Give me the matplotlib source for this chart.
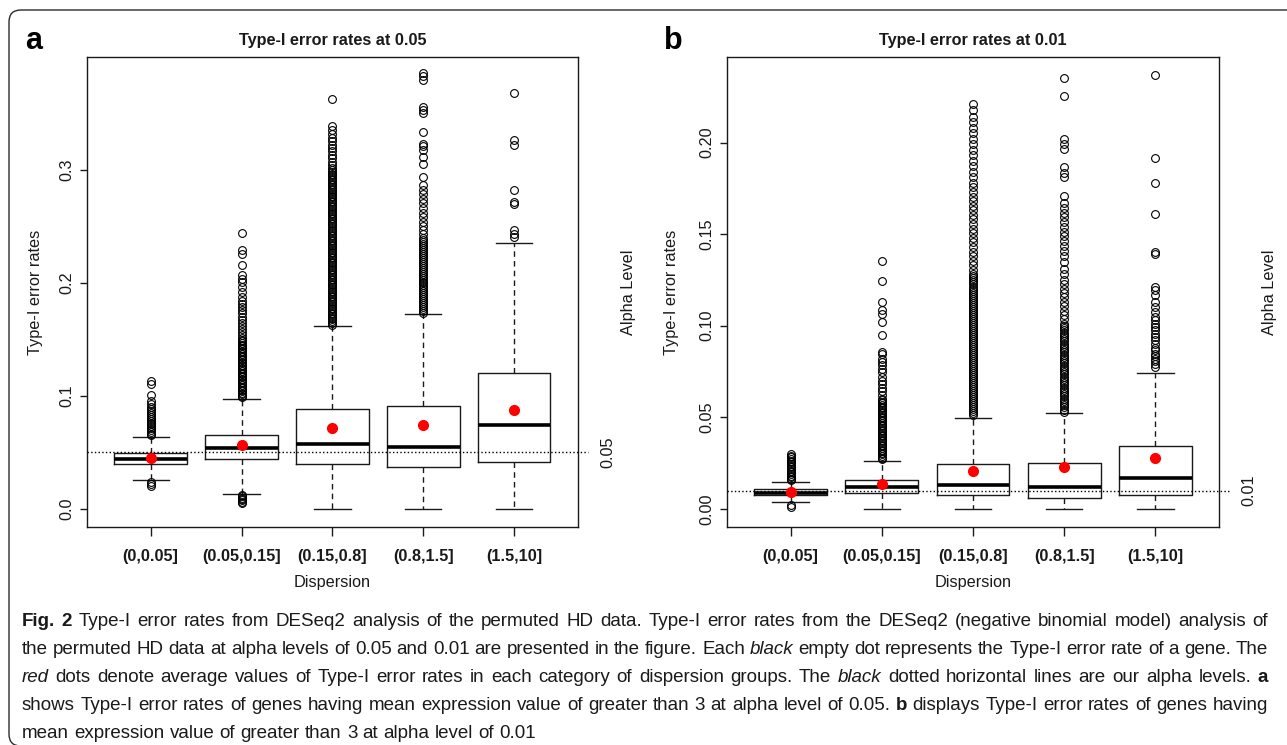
"""
Type-I error rates of DESeq2 on permuted HD data, split by dispersion group.
Two boxplot panels (alpha 0.05 and 0.01) plus the figure caption underneath.
"""

import matplotlib
matplotlib.use("Agg")
import matplotlib.pyplot as plt
from matplotlib.patches import FancyBboxPatch
from matplotlib.transforms import IdentityTransform

W, H = 1287, 745
DPI = 100

CATEGORIES = ["(0,0.05]", "(0.05,0.15]", "(0.15,0.8]", "(0.8,1.5]", "(1.5,10]"]

# --- Panel a: alpha 0.05 --------------------------------------------------
A_ALPHA = 0.05
A_ALPHA_LABEL = "0.05"
A_Q1 = [0.0395, 0.0442, 0.0395, 0.0368, 0.0416]
A_MED = [0.0439, 0.0540, 0.0572, 0.0545, 0.0746]
A_Q3 = [0.0492, 0.0655, 0.0885, 0.0908, 0.1204]
A_WHISLO = [0.0253, 0.0129, 0.0, 0.0, 0.0]
A_WHISHI = [0.0640, 0.0973, 0.1616, 0.1720, 0.2350]
A_MEAN = [0.0454, 0.0569, 0.0713, 0.0746, 0.0876]
A_FLIERS = [
    [0.0204, 0.0220, 0.0236, 0.0650, 0.0665, 0.068, 0.0698, 0.0712, 0.073, 0.0747,
     0.0763, 0.078, 0.0798, 0.0815, 0.083, 0.0848, 0.0865, 0.088, 0.0902, 0.0929,
     0.0951, 0.1009, 0.1103, 0.1132],
    [0.0052, 0.0063, 0.0075, 0.0088, 0.0100, 0.0112, 0.0124,
     0.0985, 0.1012, 0.104, 0.1068, 0.1095, 0.1123, 0.115, 0.1178, 0.1205, 0.1233,
     0.126, 0.1288, 0.1315, 0.1343, 0.137, 0.1398, 0.1425, 0.1453, 0.148, 0.1508,
     0.1535, 0.1563, 0.159, 0.1618, 0.1645, 0.1673, 0.17, 0.1728, 0.1755, 0.1783,
     0.181, 0.1838, 0.1873, 0.1917, 0.1961, 0.2005, 0.2036, 0.2065, 0.2153, 0.2257,
     0.2286, 0.2435,
     0.0998, 0.1026, 0.1054, 0.1081, 0.1109, 0.1136, 0.1164, 0.1191, 0.1219, 0.1246,
     0.1274, 0.1301, 0.1329, 0.1356, 0.1384, 0.1411, 0.1439, 0.1466, 0.1494],
    [0.163, 0.166, 0.169, 0.172, 0.175, 0.178, 0.181, 0.184, 0.187, 0.190, 0.193,
     0.196, 0.199, 0.202, 0.205, 0.208, 0.211, 0.214, 0.217, 0.220, 0.223, 0.226,
     0.229, 0.232, 0.235, 0.238, 0.241, 0.244, 0.247, 0.250, 0.253, 0.256, 0.259,
     0.262, 0.265, 0.268, 0.271, 0.274, 0.277, 0.280, 0.283, 0.286, 0.289, 0.292,
     0.295, 0.298, 0.301, 0.304, 0.307, 0.310, 0.313, 0.316, 0.319, 0.322, 0.325,
     0.328, 0.331, 0.3348, 0.3386, 0.3628,
     0.1645, 0.1675, 0.1705, 0.1735, 0.1765, 0.1795, 0.1825, 0.1855, 0.1885, 0.1915,
     0.1945, 0.1975, 0.2005, 0.2035, 0.2065, 0.2095, 0.2125, 0.2155, 0.2185, 0.2215,
     0.2245, 0.2275, 0.2305, 0.2335, 0.2365, 0.2395, 0.2425, 0.2455, 0.2485, 0.2515,
     0.2545, 0.2575, 0.2605, 0.2635, 0.2665, 0.2695, 0.2725, 0.2755, 0.2785, 0.2815,
     0.2845, 0.2875, 0.2905, 0.2935, 0.2965, 0.2995],
    [0.173, 0.1765, 0.180, 0.1835, 0.187, 0.1905, 0.194, 0.1975, 0.201, 0.2045,
     0.208, 0.2115, 0.215, 0.2185, 0.222, 0.2255, 0.229, 0.2325, 0.236, 0.2395,
     0.243, 0.2465, 0.250, 0.254, 0.258, 0.262, 0.266, 0.270, 0.274, 0.278, 0.282,
     0.286, 0.293, 0.305, 0.311, 0.317, 0.321, 0.323, 0.333, 0.3496, 0.3525, 0.355,
     0.379, 0.3826, 0.3855,
     0.1748, 0.1783, 0.1818, 0.1853, 0.1888, 0.1923, 0.1958, 0.1993, 0.2028, 0.2063,
     0.2098, 0.2133, 0.2168, 0.2203, 0.2238, 0.2273, 0.2308, 0.2343, 0.2378],
    [0.2404, 0.2434, 0.2463, 0.2698, 0.2713, 0.2823, 0.3215, 0.3260, 0.3678],
]

# --- Panel b: alpha 0.01 --------------------------------------------------
B_ALPHA = 0.01
B_ALPHA_LABEL = "0.01"
B_Q1 = [0.0075, 0.0087, 0.0075, 0.0062, 0.0073]
B_MED = [0.0084, 0.0120, 0.0133, 0.0117, 0.0166]
B_Q3 = [0.0106, 0.0158, 0.0244, 0.0249, 0.0344]
B_WHISLO = [0.0035, 0.0, 0.0, 0.0, 0.0]
B_WHISHI = [0.0147, 0.0260, 0.0498, 0.0525, 0.0744]
B_MEAN = [0.0093, 0.0135, 0.0209, 0.0227, 0.0275]
B_FLIERS = [
    [0.0012, 0.0022, 0.0155, 0.0164, 0.0173, 0.0182, 0.0191, 0.0200, 0.0209, 0.0218,
     0.0227, 0.0236, 0.0245, 0.0254, 0.0263, 0.0272, 0.0281, 0.0290, 0.0302],
    [0.0270, 0.0288, 0.0306, 0.0324, 0.0342, 0.0360, 0.0378, 0.0396, 0.0414, 0.0432,
     0.0450, 0.0468, 0.0486, 0.0504, 0.0522, 0.0540, 0.0558, 0.0576, 0.0594, 0.0602,
     0.0620, 0.0643, 0.0660, 0.0680, 0.0700, 0.0720, 0.0745, 0.0765, 0.0787, 0.0800,
     0.0820, 0.0845, 0.0856, 0.0951, 0.1020, 0.1065, 0.1087, 0.1129, 0.1243, 0.1351,
     0.0279, 0.0297, 0.0315, 0.0333, 0.0351, 0.0369, 0.0387, 0.0405, 0.0423, 0.0441,
     0.0459, 0.0477, 0.0495, 0.0513, 0.0531, 0.0549, 0.0567, 0.0585],
    [0.051, 0.0532, 0.0554, 0.0576, 0.0598, 0.062, 0.0642, 0.0664, 0.0686, 0.0708,
     0.073, 0.0752, 0.0774, 0.0796, 0.0818, 0.084, 0.0862, 0.0884, 0.0906, 0.0928,
     0.095, 0.0972, 0.0994, 0.1016, 0.1038, 0.106, 0.1082, 0.1104, 0.1126, 0.1148,
     0.117, 0.1192, 0.1214, 0.1236, 0.1258, 0.128, 0.1305, 0.133, 0.1355, 0.138,
     0.1405, 0.143, 0.1455, 0.148, 0.1505, 0.153, 0.1555, 0.158, 0.1605, 0.163,
     0.1655, 0.168, 0.1705, 0.173, 0.1755, 0.178, 0.181, 0.184, 0.187, 0.190,
     0.193, 0.196, 0.199, 0.202, 0.205, 0.208, 0.211, 0.214, 0.2175, 0.221,
     0.0521, 0.0543, 0.0565, 0.0587, 0.0609, 0.0631, 0.0653, 0.0675, 0.0697, 0.0719,
     0.0741, 0.0763, 0.0785, 0.0807, 0.0829, 0.0851, 0.0873, 0.0895, 0.0917, 0.0939,
     0.0961, 0.0983, 0.1005, 0.1027, 0.1049, 0.1071, 0.1093, 0.1115, 0.1137, 0.1159,
     0.1181, 0.1203, 0.1225, 0.1247, 0.1269],
    [0.053, 0.0554, 0.0578, 0.0602, 0.0626, 0.065, 0.0674, 0.0698, 0.0722, 0.0746,
     0.077, 0.0794, 0.0818, 0.0842, 0.0866, 0.089, 0.0914, 0.0938, 0.0962, 0.0986,
     0.101, 0.1034, 0.1058, 0.1082, 0.1106, 0.113, 0.1154, 0.1178, 0.1202, 0.1226,
     0.125, 0.1283, 0.131, 0.1347, 0.1383, 0.141, 0.1436, 0.1462, 0.1488, 0.1514,
     0.154, 0.1566, 0.1592, 0.1618, 0.1644, 0.167, 0.171, 0.181, 0.1835, 0.1865,
     0.1965, 0.1992, 0.2020, 0.2256, 0.2352,
     0.0542, 0.0566, 0.0590, 0.0614, 0.0638, 0.0662, 0.0686, 0.0710, 0.0734, 0.0758,
     0.0782, 0.0806, 0.0830, 0.0854, 0.0878, 0.0902, 0.0926, 0.0950, 0.0974, 0.0998],
    [0.0774, 0.0790, 0.0805, 0.0820, 0.0835, 0.0846, 0.0865, 0.0880, 0.0900, 0.0920,
     0.0940, 0.0956, 0.0975, 0.0992, 0.1010, 0.1029, 0.1050, 0.1074, 0.1100, 0.1129,
     0.1165, 0.1193, 0.1210, 0.1393, 0.1400, 0.1609, 0.1780, 0.1914, 0.2370],
]

A_YTICKS = [0.0, 0.1, 0.2, 0.3]
A_YTICKLABELS = ["0.0", "0.1", "0.2", "0.3"]
B_YTICKS = [0.00, 0.05, 0.10, 0.15, 0.20]
B_YTICKLABELS = ["0.00", "0.05", "0.10", "0.15", "0.20"]

CAPTION_LINES = [
    "**Fig. 2** Type-I error rates from DESeq2 analysis of the permuted HD data. Type-I error rates from the DESeq2 (negative binomial model) analysis of",
    "the permuted HD data at alpha levels of 0.05 and 0.01 are presented in the figure. Each *black* empty dot represents the Type-I error rate of a gene. The",
    "*red* dots denote average values of Type-I error rates in each category of dispersion groups. The *black* dotted horizontal lines are our alpha levels. **a**",
    "shows Type-I error rates of genes having mean expression value of greater than 3 at alpha level of 0.05. **b** displays Type-I error rates of genes having",
    "mean expression value of greater than 3 at alpha level of 0.01",
]

FS = 11.7
INK = "#1a1a1a"
CAPTION_FAMILY = ["Liberation Sans", "DejaVu Sans"]
CAPTION_SIZE = 13.5


# --- Panels ---------------------------------------------------------------

def draw_panel(fig, rect, q1, med, q3, lo, hi, mean, fliers, alpha, alpha_label,
               ylim, yticks, yticklabels, title, letter, ylabel_x):
    ax = fig.add_axes(rect)
    positions = list(range(1, len(CATEGORIES) + 1))
    stats = [
        dict(q1=a, med=b, q3=c, whislo=d, whishi=e, mean=f, fliers=g)
        for a, b, c, d, e, f, g in zip(q1, med, q3, lo, hi, mean, fliers)
    ]
    ax.bxp(
        stats, positions=positions, widths=0.8, capwidths=0.4, showmeans=True,
        boxprops=dict(color=INK, lw=1.0),
        medianprops=dict(color="black", lw=2.6, solid_capstyle="butt"),
        whiskerprops=dict(color=INK, lw=1.0, ls=(0, (4, 3))),
        capprops=dict(color=INK, lw=1.0),
        flierprops=dict(marker="o", mfc="none", mec="black", ms=5.6, mew=0.8),
        meanprops=dict(marker="o", mfc="red", mec="red", ms=7, zorder=4),
    )
    ax.axhline(alpha, xmin=0, xmax=1.022, color="black", lw=1.0, ls=":",
               clip_on=False, zorder=3)

    ax.set_xlim(0.3, 5.7)
    ax.set_ylim(*ylim)
    ax.set_xticks(positions)
    ax.set_xticklabels(CATEGORIES, fontweight="bold")
    ax.set_yticks(yticks)
    ax.set_yticklabels(yticklabels)
    ax.tick_params(axis="x", length=6.5, width=1, pad=9, labelsize=FS, colors=INK)
    ax.tick_params(axis="y", length=5, width=1, pad=4, labelsize=FS, colors=INK,
                   labelrotation=90)
    for lab in ax.get_yticklabels():
        lab.set_va("center")
    for sp in ax.spines.values():
        sp.set_linewidth(1.0)
        sp.set_color(INK)

    ax.annotate(alpha_label, xy=(1, alpha), xycoords=("axes fraction", "data"),
                xytext=(21.5, 0), textcoords="offset points", rotation=90,
                ha="center", va="center", fontsize=FS, color=INK)
    ax.annotate("Alpha Level", xy=(1, 0.5), xycoords="axes fraction",
                xytext=(36.5, 0), textcoords="offset points", rotation=90,
                ha="center", va="center", fontsize=FS, color=INK)
    ax.text(0.5, 1.036, title, transform=ax.transAxes, ha="center", va="center",
            fontsize=FS, fontweight="bold", color=INK)
    ax.text(0.5, -0.119, "Dispersion", transform=ax.transAxes, ha="center",
            va="center", fontsize=FS, color=INK)
    ax.text(ylabel_x, 0.5, "Type-I error rates", transform=ax.transAxes,
            rotation=90, ha="center", va="center", fontsize=FS, color=INK)
    ax.text(-0.11 if letter == "a" else -0.109, 1.033, letter, transform=ax.transAxes,
            ha="center", va="center", fontsize=22, fontweight="bold", color="black")
    return ax


# --- Caption --------------------------------------------------------------

def parse_words(line):
    words = []
    bold = italic = False
    for w in line.split(" "):
        if w.startswith("**"):
            bold, w = True, w[2:]
        elif w.startswith("*"):
            italic, w = True, w[1:]
        end_bold = w.endswith("**")
        if end_bold:
            w = w[:-2]
        end_italic = (not end_bold) and w.endswith("*")
        if end_italic:
            w = w[:-1]
        words.append((w, bold, italic))
        if end_bold:
            bold = False
        if end_italic:
            italic = False
    return words


def draw_caption(fig, left=22, right=1268, first_baseline=626, line_step=28):
    renderer = fig.canvas.get_renderer()
    probe = fig.text(0, 0, "n n", fontsize=CAPTION_SIZE, family=CAPTION_FAMILY)
    probe2 = fig.text(0, 0, "nn", fontsize=CAPTION_SIZE, family=CAPTION_FAMILY)
    space = probe.get_window_extent(renderer).width - probe2.get_window_extent(renderer).width
    probe.remove()
    probe2.remove()

    for i, line in enumerate(CAPTION_LINES):
        y = H - (first_baseline + i * line_step)
        texts = []
        for w, bold, italic in parse_words(line):
            t = fig.text(0, y, w, fontsize=CAPTION_SIZE, family=CAPTION_FAMILY,
                         fontweight="bold" if bold else "normal",
                         fontstyle="italic" if italic else "normal",
                         transform=IdentityTransform(), ha="left", va="baseline",
                         color=INK)
            texts.append(t)
        widths = [t.get_window_extent(renderer).width for t in texts]
        if i < len(CAPTION_LINES) - 1 and len(texts) > 1:
            gap = (right - left - sum(widths)) / (len(texts) - 1)
        else:
            gap = space
        x = left
        for t, w in zip(texts, widths):
            t.set_position((x, y))
            x += w + gap


# --- Main -----------------------------------------------------------------

def main():
    plt.rcParams["font.family"] = ["Liberation Sans", "DejaVu Sans"]
    fig = plt.figure(figsize=(W / DPI, H / DPI), dpi=DPI)

    # rounded frame around the whole figure; right and bottom run off the edge
    border = FancyBboxPatch((9, -1), 1300, 736, boxstyle="round,pad=0,rounding_size=12",
                            transform=IdentityTransform(), fill=False,
                            edgecolor="#2b2b2b", lw=1.0)
    fig.patches.append(border)

    draw_panel(fig, [87.1 / W, 1 - 527 / H, 490.5 / W, 470 / H],
               A_Q1, A_MED, A_Q3, A_WHISLO, A_WHISHI, A_MEAN, A_FLIERS,
               A_ALPHA, A_ALPHA_LABEL, (-0.0160, 0.3995), A_YTICKS, A_YTICKLABELS,
               "Type-I error rates at 0.05", "a", -0.106)
    draw_panel(fig, [726.7 / W, 1 - 527 / H, 492.6 / W, 470 / H],
               B_Q1, B_MED, B_Q3, B_WHISLO, B_WHISHI, B_MEAN, B_FLIERS,
               B_ALPHA, B_ALPHA_LABEL, (-0.0099, 0.2467), B_YTICKS, B_YTICKLABELS,
               "Type-I error rates at 0.01", "b", -0.113)

    draw_caption(fig)
    fig.savefig("out.png", dpi=DPI)


if __name__ == "__main__":
    main()
